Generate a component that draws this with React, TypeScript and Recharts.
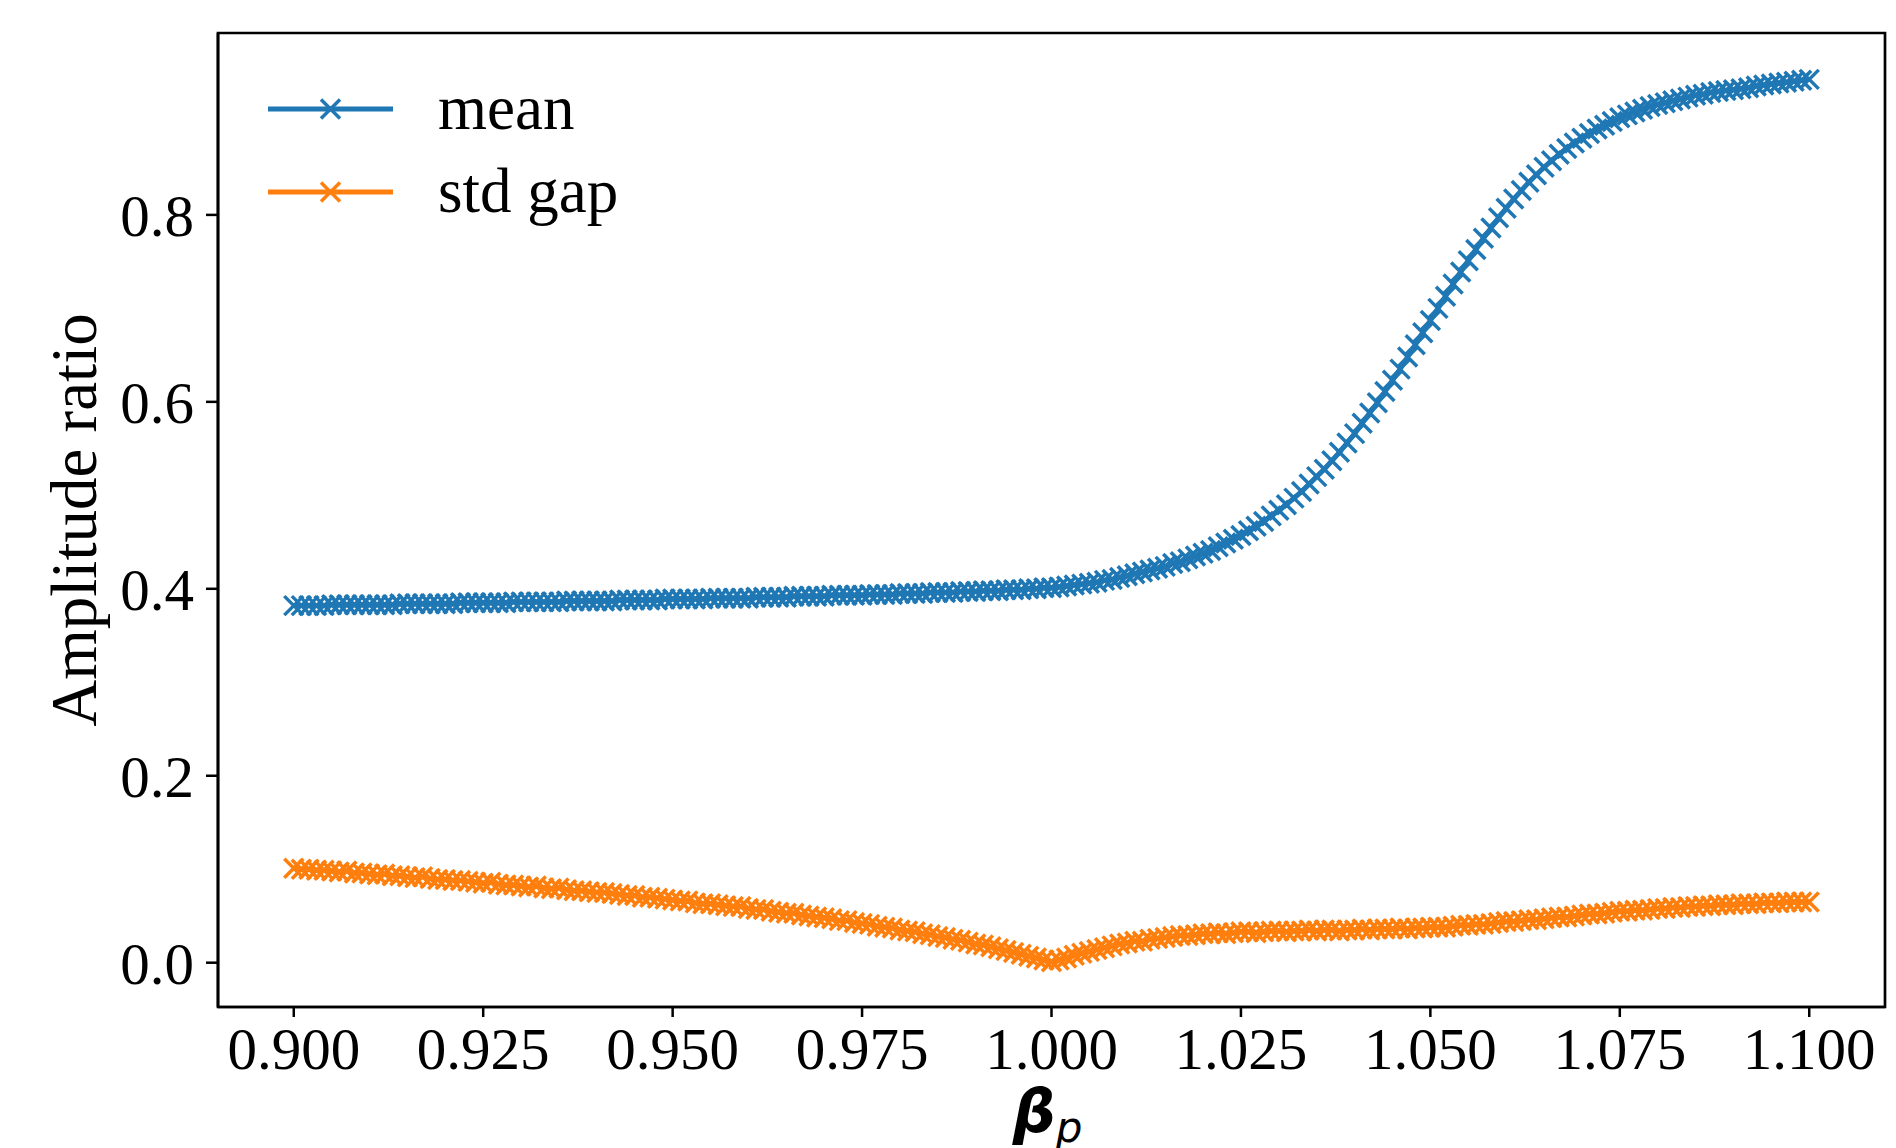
import React from 'react';
import { LineChart, Line, XAxis, YAxis, Legend, ReferenceArea } from 'recharts';

const beta = [
  0.900, 0.901, 0.902, 0.903, 0.904, 0.905, 0.906, 0.907, 0.908, 0.909,
  0.910, 0.911, 0.912, 0.913, 0.914, 0.915, 0.916, 0.917, 0.918, 0.919,
  0.920, 0.921, 0.922, 0.923, 0.924, 0.925, 0.926, 0.927, 0.928, 0.929,
  0.930, 0.931, 0.932, 0.933, 0.934, 0.935, 0.936, 0.937, 0.938, 0.939,
  0.940, 0.941, 0.942, 0.943, 0.944, 0.945, 0.946, 0.947, 0.948, 0.949,
  0.950, 0.951, 0.952, 0.953, 0.954, 0.955, 0.956, 0.957, 0.958, 0.959,
  0.960, 0.961, 0.962, 0.963, 0.964, 0.965, 0.966, 0.967, 0.968, 0.969,
  0.970, 0.971, 0.972, 0.973, 0.974, 0.975, 0.976, 0.977, 0.978, 0.979,
  0.980, 0.981, 0.982, 0.983, 0.984, 0.985, 0.986, 0.987, 0.988, 0.989,
  0.990, 0.991, 0.992, 0.993, 0.994, 0.995, 0.996, 0.997, 0.998, 0.999,
  1.000, 1.001, 1.002, 1.003, 1.004, 1.005, 1.006, 1.007, 1.008, 1.009,
  1.010, 1.011, 1.012, 1.013, 1.014, 1.015, 1.016, 1.017, 1.018, 1.019,
  1.020, 1.021, 1.022, 1.023, 1.024, 1.025, 1.026, 1.027, 1.028, 1.029,
  1.030, 1.031, 1.032, 1.033, 1.034, 1.035, 1.036, 1.037, 1.038, 1.039,
  1.040, 1.041, 1.042, 1.043, 1.044, 1.045, 1.046, 1.047, 1.048, 1.049,
  1.050, 1.051, 1.052, 1.053, 1.054, 1.055, 1.056, 1.057, 1.058, 1.059,
  1.060, 1.061, 1.062, 1.063, 1.064, 1.065, 1.066, 1.067, 1.068, 1.069,
  1.070, 1.071, 1.072, 1.073, 1.074, 1.075, 1.076, 1.077, 1.078, 1.079,
  1.080, 1.081, 1.082, 1.083, 1.084, 1.085, 1.086, 1.087, 1.088, 1.089,
  1.090, 1.091, 1.092, 1.093, 1.094, 1.095, 1.096, 1.097, 1.098, 1.099,
  1.100,
];

const meanRatio = [
  0.382, 0.382, 0.382, 0.382, 0.382, 0.383, 0.383, 0.383, 0.383, 0.383,
  0.383, 0.383, 0.383, 0.383, 0.384, 0.384, 0.384, 0.384, 0.384, 0.384,
  0.384, 0.384, 0.385, 0.385, 0.385, 0.385, 0.385, 0.385, 0.385, 0.386,
  0.386, 0.386, 0.386, 0.386, 0.386, 0.386, 0.387, 0.387, 0.387, 0.387,
  0.387, 0.387, 0.387, 0.388, 0.388, 0.388, 0.388, 0.388, 0.388, 0.389,
  0.389, 0.389, 0.389, 0.389, 0.389, 0.390, 0.390, 0.390, 0.390, 0.390,
  0.390, 0.391, 0.391, 0.391, 0.391, 0.391, 0.392, 0.392, 0.392, 0.392,
  0.392, 0.393, 0.393, 0.393, 0.393, 0.393, 0.394, 0.394, 0.394, 0.394,
  0.395, 0.395, 0.395, 0.395, 0.396, 0.396, 0.396, 0.396, 0.397, 0.397,
  0.397, 0.398, 0.398, 0.398, 0.399, 0.399, 0.399, 0.400, 0.400, 0.401,
  0.401, 0.402, 0.403, 0.404, 0.405, 0.406, 0.407, 0.409, 0.410, 0.412,
  0.414, 0.416, 0.418, 0.420, 0.422, 0.424, 0.427, 0.429, 0.432, 0.435,
  0.438, 0.441, 0.445, 0.449, 0.453, 0.457, 0.462, 0.467, 0.472, 0.478,
  0.484, 0.490, 0.497, 0.504, 0.512, 0.520, 0.528, 0.537, 0.546, 0.556,
  0.566, 0.577, 0.588, 0.599, 0.611, 0.623, 0.635, 0.648, 0.661, 0.674,
  0.687, 0.700, 0.713, 0.726, 0.739, 0.751, 0.763, 0.775, 0.786, 0.797,
  0.807, 0.817, 0.826, 0.835, 0.843, 0.851, 0.858, 0.865, 0.871, 0.877,
  0.882, 0.887, 0.892, 0.896, 0.900, 0.904, 0.907, 0.910, 0.913, 0.916,
  0.918, 0.920, 0.922, 0.924, 0.926, 0.928, 0.929, 0.931, 0.932, 0.933,
  0.934, 0.935, 0.936, 0.938, 0.939, 0.940, 0.941, 0.942, 0.943, 0.944,
  0.945,
];

const stdGap = [
  0.101, 0.100, 0.100, 0.099, 0.099, 0.098, 0.097, 0.098, 0.096, 0.096,
  0.095, 0.094, 0.095, 0.093, 0.093, 0.092, 0.091, 0.092, 0.090, 0.089,
  0.089, 0.088, 0.088, 0.087, 0.086, 0.085, 0.086, 0.084, 0.083, 0.083,
  0.082, 0.081, 0.082, 0.080, 0.079, 0.080, 0.078, 0.077, 0.077, 0.076,
  0.075, 0.075, 0.074, 0.073, 0.072, 0.072, 0.070, 0.070, 0.069, 0.068,
  0.067, 0.066, 0.066, 0.064, 0.063, 0.063, 0.062, 0.061, 0.060, 0.060,
  0.058, 0.057, 0.057, 0.055, 0.054, 0.053, 0.053, 0.051, 0.050, 0.049,
  0.048, 0.047, 0.045, 0.045, 0.043, 0.042, 0.041, 0.039, 0.038, 0.037,
  0.035, 0.034, 0.033, 0.031, 0.030, 0.028, 0.027, 0.025, 0.024, 0.022,
  0.020, 0.019, 0.017, 0.015, 0.013, 0.011, 0.009, 0.007, 0.005, 0.003,
  0.001, 0.003, 0.005, 0.008, 0.010, 0.012, 0.014, 0.016, 0.018, 0.020,
  0.021, 0.023, 0.023, 0.025, 0.026, 0.027, 0.028, 0.029, 0.029, 0.030,
  0.031, 0.031, 0.032, 0.031, 0.032, 0.033, 0.033, 0.032, 0.033, 0.034,
  0.034, 0.033, 0.034, 0.034, 0.035, 0.034, 0.035, 0.035, 0.034, 0.035,
  0.035, 0.036, 0.035, 0.036, 0.036, 0.036, 0.037, 0.036, 0.037, 0.037,
  0.038, 0.038, 0.038, 0.039, 0.040, 0.040, 0.041, 0.041, 0.042, 0.043,
  0.044, 0.044, 0.045, 0.046, 0.046, 0.047, 0.048, 0.049, 0.049, 0.050,
  0.051, 0.052, 0.052, 0.053, 0.054, 0.055, 0.055, 0.056, 0.056, 0.057,
  0.058, 0.058, 0.059, 0.059, 0.060, 0.060, 0.061, 0.061, 0.062, 0.062,
  0.062, 0.063, 0.063, 0.063, 0.064, 0.064, 0.064, 0.065, 0.065, 0.065,
  0.065,
];

const xTicks = [0.9, 0.925, 0.95, 0.975, 1.0, 1.025, 1.05, 1.075, 1.1];
const yTicks = [0, 0.2, 0.4, 0.6, 0.8];
const xDomain: [number, number] = [0.89, 1.11];
const yDomain: [number, number] = [-0.0474, 0.9946];
const seriesNames = ['mean', 'std gap'];
const seriesColors = ['#1f77b4', '#ff7f0e'];

const data = beta.map((b, i) => ({ beta: b, mean: meanRatio[i], stdGap: stdGap[i] }));

const SERIF = '"Liberation Serif", "Times New Roman", serif';

const makeCross = (color: string, r: number) => (props: any) => {
  const { cx, cy, index } = props;
  if (cx == null || cy == null) return <g key={`n-${index}`} />;
  return (
    <path
      key={`x-${color}-${index}`}
      d={`M${cx - r},${cy - r}L${cx + r},${cy + r}M${cx - r},${cy + r}L${cx + r},${cy - r}`}
      stroke={color}
      strokeWidth={3.5}
      fill="none"
    />
  );
};

const LegendBox = () => (
  <svg width={460} height={190} style={{ display: 'block' }}>
    {seriesNames.map((name, i) => {
      const ly = 41 + i * 83;
      const r = 9.5;
      return (
        <g key={name}>
          <line x1={0} y1={ly} x2={125} y2={ly} stroke={seriesColors[i]} strokeWidth={5} />
          <path
            d={`M${62.5 - r},${ly - r}L${62.5 + r},${ly + r}M${62.5 - r},${ly + r}L${62.5 + r},${ly - r}`}
            stroke={seriesColors[i]}
            strokeWidth={3.5}
            fill="none"
          />
          <text x={170} y={ly + 20} fontFamily={SERIF} fontSize={63} fill="#000">
            {name}
          </text>
        </g>
      );
    })}
  </svg>
);

const BetaLabel = (props: any) => {
  const vb = props.viewBox || {};
  const cx = (vb.x ?? 0) + (vb.width ?? 0) / 2 - 4;
  const by = (vb.y ?? 0) + 125;
  return (
    <text x={cx} y={by} textAnchor="middle" fontFamily='"DejaVu Sans", sans-serif' fill="#000">
      <tspan fontWeight="bold" fontStyle="italic" fontSize={60}>β</tspan>
      <tspan fontStyle="italic" fontSize={42} dy={10}>p</tspan>
    </text>
  );
};

const AmpLabel = (props: any) => {
  const vb = props.viewBox || {};
  const x = (vb.x ?? 0) + 88;
  const y = (vb.y ?? 0) + (vb.height ?? 0) / 2;
  return (
    <text x={x} y={y} transform={`rotate(-90, ${x}, ${y})`} textAnchor="middle" fontFamily={SERIF} fontSize={65} fill="#000">
      Amplitude ratio
    </text>
  );
};

export default function App() {
  const tickStyle = { fontFamily: SERIF, fontSize: 59, fill: '#000' };
  return (
    <div style={{ width: 1880, height: 1140, position: 'relative' }}>
      <LineChart width={1880} height={1140} data={data} margin={{ top: 25, right: 3, bottom: 0, left: 0 }}>
        <XAxis
          dataKey="beta"
          type="number"
          domain={xDomain}
          ticks={xTicks}
          allowDataOverflow
          tickFormatter={(v: number) => v.toFixed(3)}
          height={141}
          tickSize={10}
          tickMargin={10}
          tick={tickStyle}
          axisLine={{ stroke: '#000', strokeWidth: 2.7 }}
          tickLine={{ stroke: '#000', strokeWidth: 2.5 }}
          label={<BetaLabel />}
        />
        <YAxis
          type="number"
          domain={yDomain}
          ticks={yTicks}
          allowDataOverflow
          tickFormatter={(v: number) => v.toFixed(1)}
          width={210}
          tickSize={12}
          tickMargin={12}
          tick={tickStyle}
          axisLine={{ stroke: '#000', strokeWidth: 2.7 }}
          tickLine={{ stroke: '#000', strokeWidth: 2.5 }}
          label={<AmpLabel />}
        />
        <Legend
          layout="vertical"
          align="center"
          verticalAlign="middle"
          content={<LegendBox />}
          wrapperStyle={{ position: 'absolute', left: 260, top: 60, width: 460, height: 190 }}
        />
        <Line
          type="linear"
          dataKey="mean"
          name="mean"
          stroke={seriesColors[0]}
          strokeWidth={5}
          dot={makeCross(seriesColors[0], 9.5)}
          activeDot={false}
          isAnimationActive={false}
        />
        <Line
          type="linear"
          dataKey="stdGap"
          name="std gap"
          stroke={seriesColors[1]}
          strokeWidth={5}
          dot={makeCross(seriesColors[1], 9.5)}
          activeDot={false}
          isAnimationActive={false}
        />
        <ReferenceArea
          x1={xDomain[0]}
          x2={xDomain[1]}
          y1={yDomain[0]}
          y2={yDomain[1]}
          fill="none"
          fillOpacity={0}
          stroke="#000"
          strokeWidth={2.7}
          ifOverflow="visible"
        />
      </LineChart>
    </div>
  );
}
